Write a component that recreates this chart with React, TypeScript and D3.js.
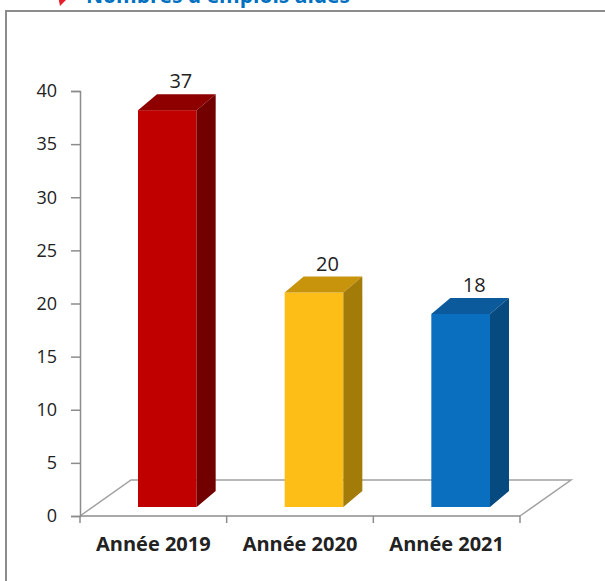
import * as d3 from "d3";
import { useEffect, useRef } from "react";

const title = "Nombres d'emplois aidés";
const categories = ["Année 2019", "Année 2020", "Année 2021"];
const values = [37, 20, 18];
const yTicks = [0, 5, 10, 15, 20, 25, 30, 35, 40];
const frontColors = ["#c00000", "#fdbf17", "#0b6fc0"];
const topColors = ["#8e0000", "#c8940c", "#0a5a9c"];
const sideColors = ["#730000", "#a37b08", "#074a80"];

export default function App() {
  const svgRef = useRef<SVGSVGElement>(null);

  useEffect(() => {
    const svg = d3.select(svgRef.current);
    svg.selectAll("*").remove();

    //front plane of the plot
    const left = 80;
    const right = 520;
    const bottom = 516;
    const top = 91;
    const floor = [51, -36]; // depth of the floor
    const shift = [14, -9]; // where the bars sit in the floor
    const depth = [19, -16]; // depth of one bar
    const font = "'Open Sans', 'Noto Sans', sans-serif";

    const x = d3.scaleBand().domain(categories).range([left, right]);
    const y = d3.scaleLinear().domain([0, 40]).range([bottom, top]);
    const yBar = d3.scaleLinear().domain([0, 40]).range([bottom + shift[1], 78]);
    const barW = x.bandwidth() * 0.4;

    //frame
    svg
      .append("rect")
      .attr("x", 6)
      .attr("y", 11)
      .attr("width", 700)
      .attr("height", 700)
      .attr("fill", "none")
      .attr("stroke", "#8c8c8c")
      .attr("stroke-width", 2);

    //title (cut off by the top of the picture)
    svg
      .append("path")
      .attr("d", "M56,-14L70,-4L60,6Z")
      .attr("fill", "#e3202b");
    svg
      .append("text")
      .attr("x", 86)
      .attr("y", 3)
      .attr("font-family", font)
      .attr("font-weight", "bold")
      .attr("font-size", 21)
      .attr("fill", "#0070c0")
      .text(title);

    //floor
    const line = d3.line();
    svg
      .append("path")
      .attr(
        "d",
        line([
          [left, y(0)],
          [left + floor[0], y(0) + floor[1]],
          [right + floor[0], y(0) + floor[1]],
          [right, y(0)],
        ])
      )
      .attr("fill", "none")
      .attr("stroke", "#a0a0a0")
      .attr("stroke-width", 1.5);

    //y axis
    const yAxis = d3.axisLeft(y).tickValues(yTicks).tickSize(9).tickPadding(14);
    const gy = svg.append("g").attr("transform", `translate(${left},0)`).call(yAxis);
    gy.selectAll("path, line").attr("stroke", "#8c8c8c").attr("stroke-width", 1.5);
    gy.selectAll("text")
      .attr("font-family", font)
      .attr("font-size", 18)
      .attr("fill", "#222");

    //x axis: front edge + ticks between the categories
    svg
      .append("line")
      .attr("x1", left)
      .attr("x2", right)
      .attr("y1", y(0))
      .attr("y2", y(0))
      .attr("stroke", "#8c8c8c")
      .attr("stroke-width", 1.5);
    const edges = categories.map((c) => x(c)).concat([right]);
    svg
      .selectAll()
      .data(edges)
      .enter()
      .append("line")
      .attr("x1", (d) => d)
      .attr("x2", (d) => d)
      .attr("y1", y(0))
      .attr("y2", y(0) + 7)
      .attr("stroke", "#8c8c8c")
      .attr("stroke-width", 1.5);
    svg
      .selectAll()
      .data(categories)
      .enter()
      .append("text")
      .attr("x", (d) => x(d) + x.bandwidth() / 2)
      .attr("y", 551)
      .attr("text-anchor", "middle")
      .attr("font-family", font)
      .attr("font-weight", "bold")
      .attr("font-size", 20)
      .attr("fill", "#222")
      .text((d) => d);

    //bars
    const bars = categories.map((c, i) => {
      const fx = x(c) + x.bandwidth() / 2 + shift[0] - barW / 2;
      return { fx, y0: yBar(0), y1: yBar(values[i]), v: values[i], i };
    });
    const g = svg.selectAll().data(bars).enter().append("g");
    g.append("rect")
      .attr("x", (d) => d.fx)
      .attr("y", (d) => d.y1)
      .attr("width", barW)
      .attr("height", (d) => d.y0 - d.y1)
      .attr("fill", (d) => frontColors[d.i]);
    g.append("path")
      .attr("d", (d) =>
        line([
          [d.fx, d.y1],
          [d.fx + barW, d.y1],
          [d.fx + barW + depth[0], d.y1 + depth[1]],
          [d.fx + depth[0], d.y1 + depth[1]],
        ]) + "Z"
      )
      .attr("fill", (d) => topColors[d.i]);
    g.append("path")
      .attr("d", (d) =>
        line([
          [d.fx + barW, d.y1],
          [d.fx + barW + depth[0], d.y1 + depth[1]],
          [d.fx + barW + depth[0], d.y0 + depth[1]],
          [d.fx + barW, d.y0],
        ]) + "Z"
      )
      .attr("fill", (d) => sideColors[d.i]);
    g.append("text")
      .attr("x", (d) => d.fx + barW / 2 + depth[0] / 2 + 4)
      .attr("y", (d) => d.y1 + depth[1] - 6)
      .attr("text-anchor", "middle")
      .attr("font-family", font)
      .attr("font-size", 20)
      .attr("fill", "#222")
      .text((d) => d.v);
  }, []);

  return (
    <svg
      ref={svgRef}
      width={605}
      height={581}
      style={{ position: "absolute", left: 0, top: 0, background: "#fff" }}
    ></svg>
  );
}
